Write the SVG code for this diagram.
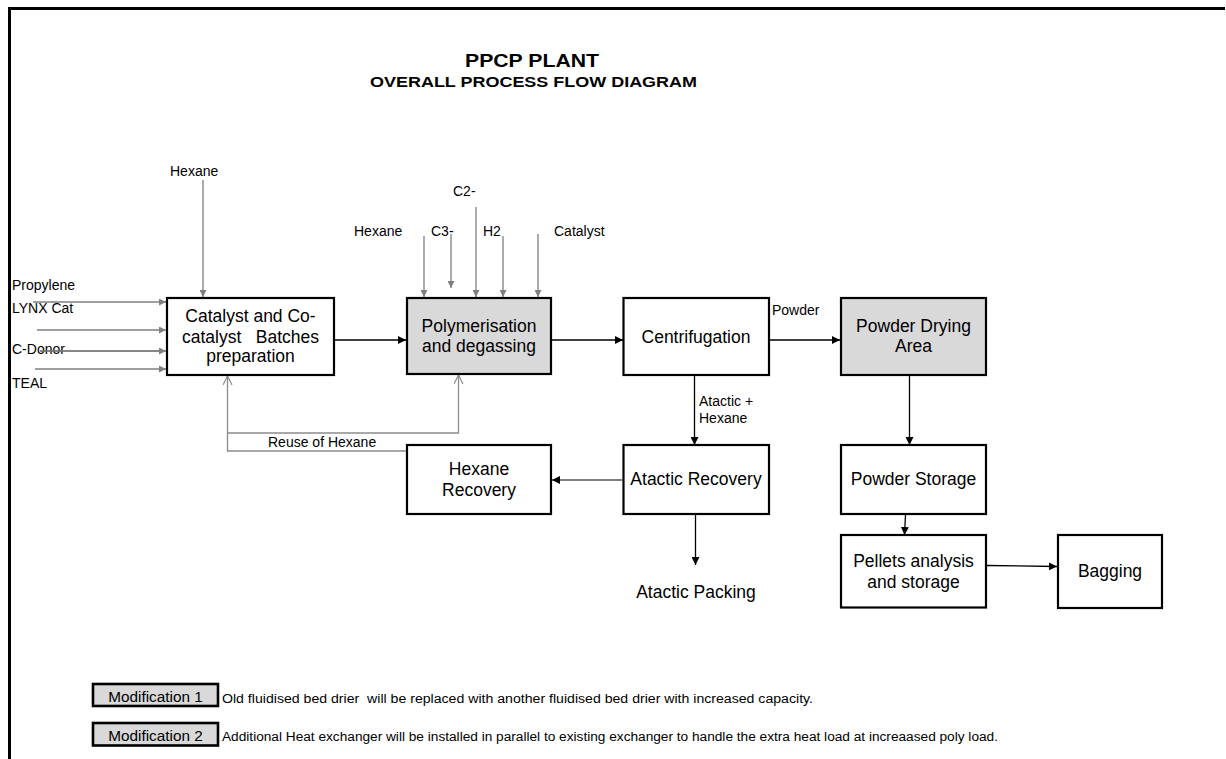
<svg xmlns="http://www.w3.org/2000/svg" width="1226" height="759" viewBox="0 0 1226 759">
  <style>
    text { font-family: "Liberation Sans", Arial, sans-serif; fill: #000; }
    .box { fill: #fff; stroke: #000; stroke-width: 2.2; }
    .shaded { fill: #d9d9d9; }
    .lbl { font-size: 17.5px; text-anchor: middle; }
    .small { font-size: 14px; }
    .feed { stroke: #7f7f7f; stroke-width: 1.3; fill: none; }
    .flow { stroke: #000; stroke-width: 1.3; fill: none; }
    .recycle { stroke: #8c8c8c; stroke-width: 1.3; fill: none; }
    .modbox { fill: #d9d9d9; stroke: #000; stroke-width: 2.6; }
    .note { font-size: 12px; }
  </style>
  <defs>
    <marker id="arrGray" viewBox="0 0 10 10" refX="10" refY="5" markerWidth="7" markerHeight="7" orient="auto" markerUnits="userSpaceOnUse">
      <path d="M0,0 L10,5 L0,10 z" fill="#7f7f7f"/>
    </marker>
    <marker id="arrBlack" viewBox="0 0 10 10" refX="10" refY="5" markerWidth="8" markerHeight="8" orient="auto" markerUnits="userSpaceOnUse">
      <path d="M0,0 L10,5 L0,10 z" fill="#000"/>
    </marker>
    <marker id="arrOpen" viewBox="0 0 10 10" refX="10" refY="5" markerWidth="10" markerHeight="10" orient="auto" markerUnits="userSpaceOnUse">
      <path d="M1,0.5 L10,5 L1,9.5" fill="none" stroke="#8c8c8c" stroke-width="1.2"/>
    </marker>
  </defs>

  <rect width="1226" height="759" fill="#fff"/>

  <!-- sheet frame: top and left edges -->
  <path d="M9.5,759 L9.5,8.5 L1225,8.5" fill="none" stroke="#000" stroke-width="3"/>

  <!-- title block -->
  <g id="title">
    <text x="532" y="67" font-size="19" font-weight="bold" text-anchor="middle" textLength="134" lengthAdjust="spacingAndGlyphs">PPCP PLANT</text>
    <text x="533.5" y="87" font-size="14.5" font-weight="bold" text-anchor="middle" textLength="327" lengthAdjust="spacingAndGlyphs">OVERALL PROCESS FLOW DIAGRAM</text>
  </g>

  <!-- connectors -->
  <g id="connectors">
    <!-- feeds to catalyst preparation -->
    <line class="feed" x1="203" y1="180" x2="203" y2="297" marker-end="url(#arrGray)"/>
    <line class="feed" x1="33" y1="302" x2="166" y2="302" marker-end="url(#arrGray)"/>
    <line class="feed" x1="37" y1="330" x2="166" y2="330" marker-end="url(#arrGray)"/>
    <line class="feed" x1="40" y1="351" x2="166" y2="351" marker-end="url(#arrGray)"/>
    <line class="feed" x1="35" y1="369" x2="166" y2="369" marker-end="url(#arrGray)"/>

    <!-- feeds to polymerisation -->
    <line class="feed" x1="424" y1="236" x2="424" y2="297" marker-end="url(#arrGray)"/>
    <line class="feed" x1="451" y1="234" x2="451" y2="288" marker-end="url(#arrGray)"/>
    <line class="feed" x1="476" y1="207" x2="476" y2="297" marker-end="url(#arrGray)"/>
    <line class="feed" x1="503" y1="236" x2="503" y2="297" marker-end="url(#arrGray)"/>
    <line class="feed" x1="538" y1="234" x2="538" y2="297" marker-end="url(#arrGray)"/>

    <!-- main process line -->
    <line class="flow" x1="335" y1="340" x2="406" y2="340" marker-end="url(#arrBlack)"/>
    <line class="flow" x1="552" y1="340" x2="623" y2="340" marker-end="url(#arrBlack)"/>
    <line class="flow" x1="770" y1="340" x2="840" y2="340" marker-end="url(#arrBlack)"/>
    <line class="flow" x1="694.5" y1="376" x2="694.5" y2="445" marker-end="url(#arrBlack)"/>
    <line class="flow" x1="695.5" y1="515" x2="695.5" y2="565" marker-end="url(#arrBlack)"/>
    <line class="flow" x1="909.5" y1="376" x2="909.5" y2="445" marker-end="url(#arrBlack)"/>
    <line class="flow" x1="905.5" y1="515" x2="904.5" y2="535" marker-end="url(#arrBlack)"/>
    <line class="flow" x1="987" y1="565.5" x2="1057" y2="566.5" marker-end="url(#arrBlack)"/>
    <line x1="622" y1="480" x2="552" y2="480" stroke="#555" stroke-width="1.3" marker-end="url(#arrBlack)"/>

    <!-- hexane recycle -->
    <polyline class="recycle" points="406,451 227.5,451 227.5,376" marker-end="url(#arrOpen)"/>
    <polyline class="recycle" points="227.5,433 458.5,433 458.5,375" marker-end="url(#arrOpen)"/>
  </g>

  <!-- stream labels -->
  <g id="stream-labels" class="small">
    <text x="170" y="176" class="small">Hexane</text>
    <text x="12" y="290" class="small">Propylene</text>
    <text x="12" y="313" class="small">LYNX Cat</text>
    <text x="12" y="354" class="small">C-Donor</text>
    <text x="12" y="388" class="small">TEAL</text>
    <text x="354" y="236" class="small">Hexane</text>
    <text x="431" y="236" class="small">C3-</text>
    <text x="453" y="196" class="small">C2-</text>
    <text x="483" y="236" class="small">H2</text>
    <text x="554" y="236" class="small">Catalyst</text>
    <text x="772" y="315" class="small">Powder</text>
    <text x="699" y="406" class="small">Atactic +</text>
    <text x="699" y="423" class="small">Hexane</text>
    <text x="268" y="447" class="small">Reuse of Hexane</text>
  </g>
  <!-- redraw C-Donor feed line over its label -->
  <line class="feed" x1="40" y1="351" x2="160" y2="351"/>

  <!-- process units -->
  <g id="catalyst-prep">
    <rect class="box" x="167" y="298" width="167" height="77"/>
    <text class="lbl" x="250.5" y="322">Catalyst and Co-</text>
    <text class="lbl" x="250.5" y="343" style="white-space:pre">catalyst   Batches</text>
    <text class="lbl" x="250.5" y="362">preparation</text>
  </g>
  <g id="polymerisation">
    <rect class="box shaded" x="407" y="298" width="144" height="76"/>
    <text class="lbl" x="479" y="332">Polymerisation</text>
    <text class="lbl" x="479" y="352">and degassing</text>
  </g>
  <g id="centrifugation">
    <rect class="box" x="623.5" y="298" width="145.5" height="77"/>
    <text class="lbl" x="696" y="343">Centrifugation</text>
  </g>
  <g id="powder-drying">
    <rect class="box shaded" x="841" y="298" width="145" height="77"/>
    <text class="lbl" x="913.5" y="332">Powder Drying</text>
    <text class="lbl" x="913.5" y="352">Area</text>
  </g>
  <g id="hexane-recovery">
    <rect class="box" x="407" y="445" width="144" height="69"/>
    <text class="lbl" x="479" y="475">Hexane</text>
    <text class="lbl" x="479" y="496">Recovery</text>
  </g>
  <g id="atactic-recovery">
    <rect class="box" x="623.5" y="445" width="145.5" height="69"/>
    <text class="lbl" x="696" y="485">Atactic Recovery</text>
  </g>
  <g id="atactic-packing">
    <text class="lbl" x="696" y="598">Atactic Packing</text>
  </g>
  <g id="powder-storage">
    <rect class="box" x="841" y="445" width="145" height="69"/>
    <text class="lbl" x="913.5" y="485">Powder Storage</text>
  </g>
  <g id="pellets">
    <rect class="box" x="841" y="535" width="145" height="72.5"/>
    <text class="lbl" x="913.5" y="567">Pellets analysis</text>
    <text class="lbl" x="913.5" y="588">and storage</text>
  </g>
  <g id="bagging">
    <rect class="box" x="1058" y="535" width="104" height="73"/>
    <text class="lbl" x="1110" y="577">Bagging</text>
  </g>

  <!-- modification notes -->
  <g id="modification-1">
    <rect class="modbox" x="93" y="684" width="125" height="22"/>
    <text x="155.5" y="702" font-size="15.3" text-anchor="middle">Modification 1</text>
    <text class="note" x="222" y="703" textLength="591" lengthAdjust="spacingAndGlyphs" style="white-space:pre">Old fluidised bed drier  will be replaced with another fluidised bed drier with increased capacity.</text>
  </g>
  <g id="modification-2">
    <rect class="modbox" x="93" y="723" width="125" height="22.5"/>
    <text x="155.5" y="741" font-size="15.3" text-anchor="middle">Modification 2</text>
    <text class="note" x="222" y="741" textLength="776" lengthAdjust="spacingAndGlyphs">Additional Heat exchanger will be installed in parallel to existing exchanger to handle the extra heat load at increaased poly load.</text>
  </g>
</svg>
